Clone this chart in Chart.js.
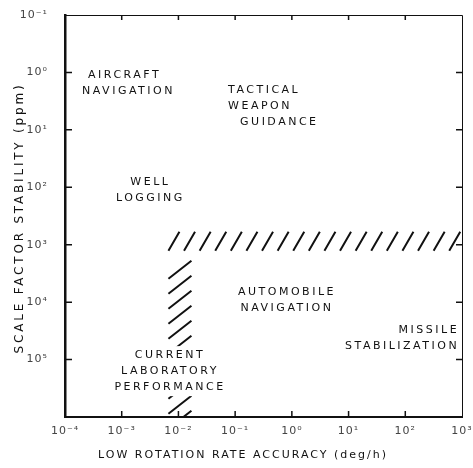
<!DOCTYPE html>
<html>
<head>
<meta charset="utf-8">
<script src="https://cdn.jsdelivr.net/npm/chart.js@4"></script>
<style>
    html, body { margin: 0; padding: 0; background: #fff; }
    #wrap { width: 473px; height: 468px; }
</style>
</head>
<body>
<div id="wrap"><canvas id="chart"></canvas></div>
<script>
// decades on both log axes
const xTickValues = [1e-4, 1e-3, 1e-2, 1e-1, 1e0, 1e1, 1e2, 1e3];
const xTickLabels = ["10⁻⁴", "10⁻³", "10⁻²", "10⁻¹", "10⁰", "10¹", "10²", "10³"];
const yTickValues = [1e-1, 1e0, 1e1, 1e2, 1e3, 1e4, 1e5, 1e6];
const yTickLabels = ["10⁻¹", "10⁰", "10¹", "10²", "10³", "10⁴", "10⁵", ""];

// application areas, anchored at (deg/h, ppm)
const appNames = [
    [" AIRCRAFT", "NAVIGATION"],
    ["TACTICAL", "WEAPON", "  GUIDANCE"],
    ["WELL", "LOGGING"],
    ["AUTOMOBILE", "NAVIGATION"],
    ["MISSILE", "STABILIZATION"],
    ["CURRENT", "LABORATORY", "PERFORMANCE"],
];
const appRate = [2.0e-4, 0.075, 3.2e-3, 0.82, 890, 7.1e-3];
const appStability = [1.1, 2.0, 81, 6700, 30800, 83700];

// limit of current laboratory performance (hatched L)
const limitRate = [1e3, 1e-2, 1e-2];
const limitStability = [1e3, 1e3, 1e6];

const FONT = "'DejaVu Sans', sans-serif";
const labelAlign = ["left", "left", "center", "center", "right", "center"];

const paperPlugin = {
    id: "paper",
    beforeDraw(chart) {
        const ctx = chart.ctx;
        ctx.save();
        ctx.fillStyle = "#fff";
        ctx.fillRect(0, 0, chart.width, chart.height);
        ctx.restore();
        ctx.letterSpacing = "1px";
    },
    afterDatasetsDraw(chart) {
        const ctx = chart.ctx;
        const area = chart.chartArea;
        const xs = chart.scales.x;
        const ys = chart.scales.y;

        // hatching along the limit
        const lim = chart.getDatasetMeta(1).data;
        const corner = lim[1];
        ctx.save();
        ctx.strokeStyle = "#111";
        ctx.lineWidth = 2;
        ctx.beginPath();
        for (let x = corner.x - 10; x < lim[0].x - 3; x += 15.6) {
            ctx.moveTo(x, corner.y + 6);
            ctx.lineTo(x + 11, corner.y - 13);
        }
        ctx.stroke();
        ctx.save();
        ctx.beginPath();
        ctx.rect(area.left, area.top, area.right - area.left, area.bottom - area.top);
        ctx.clip();
        ctx.beginPath();
        for (let y = corner.y + 16; y < lim[2].y + 5; y += 15) {
            ctx.moveTo(corner.x - 10, y + 18);
            ctx.lineTo(corner.x + 13, y);
        }
        ctx.stroke();
        ctx.restore();
        ctx.restore();

        // application labels
        const pts = chart.getDatasetMeta(0).data;
        ctx.save();
        ctx.font = "11px " + FONT;
        ctx.letterSpacing = "2.5px";
        ctx.textBaseline = "middle";
        appNames.forEach((lines, i) => {
            const p = pts[i];
            ctx.textAlign = labelAlign[i];
            lines.forEach((line, j) => {
                const y = p.y + j * 16;
                const w = ctx.measureText(line).width;
                let x0 = p.x;
                if (labelAlign[i] === "center") x0 = p.x - w / 2;
                if (labelAlign[i] === "right") x0 = p.x - w;
                ctx.fillStyle = "#fff";
                ctx.fillRect(x0 - 3, y - 9, w + 6, 18);
                ctx.fillStyle = "#111";
                ctx.fillText(line, p.x, y);
            });
        });
        ctx.restore();

        // thin top / right frame and inward ticks
        ctx.save();
        ctx.strokeStyle = "#111";
        ctx.lineWidth = 1;
        ctx.beginPath();
        ctx.moveTo(area.left, area.top + 0.5);
        ctx.lineTo(area.right + 0.5, area.top + 0.5);
        ctx.lineTo(area.right + 0.5, area.bottom);
        ctx.stroke();
        ctx.lineWidth = 1.5;
        ctx.beginPath();
        xTickValues.slice(1, -1).forEach((v) => {
            const px = xs.getPixelForValue(v);
            ctx.moveTo(px, area.bottom);
            ctx.lineTo(px, area.bottom - 6);
            ctx.moveTo(px, area.top);
            ctx.lineTo(px, area.top + 5);
        });
        yTickValues.slice(1, -1).forEach((v) => {
            const py = ys.getPixelForValue(v);
            ctx.moveTo(area.left, py);
            ctx.lineTo(area.left + 7, py);
            ctx.moveTo(area.right, py);
            ctx.lineTo(area.right - 6, py);
        });
        ctx.stroke();
        ctx.restore();

        // axis titles
        ctx.save();
        ctx.fillStyle = "#111";
        ctx.textAlign = "center";
        ctx.textBaseline = "middle";
        ctx.font = "11px " + FONT;
        ctx.letterSpacing = "2px";
        ctx.fillText("LOW ROTATION RATE ACCURACY (deg/h)", area.left + 178, area.bottom + 38);
        ctx.translate(20, (area.top + area.bottom) / 2 + 2);
        ctx.rotate(-Math.PI / 2);
        ctx.font = "12px " + FONT;
        ctx.letterSpacing = "2.8px";
        ctx.fillText("SCALE FACTOR STABILITY (ppm)", 0, 0);
        ctx.restore();
    },
};

new Chart(document.getElementById("chart"), {
    type: "scatter",
    data: {
        datasets: [
            {
                label: "Applications",
                data: appRate.map((r, i) => ({ x: r, y: appStability[i] })),
                pointRadius: 0,
                showLine: false,
            },
            {
                label: "Current laboratory performance",
                data: limitRate.map((r, i) => ({ x: r, y: limitStability[i] })),
                pointRadius: 0,
                showLine: true,
                borderWidth: 0,
                borderColor: "rgba(0,0,0,0)",
            },
        ],
    },
    options: {
        responsive: true,
        maintainAspectRatio: false,
        animation: false,
        events: [],
        layout: { padding: { top: 15, right: 11, left: 0, bottom: 0 } },
        plugins: {
            legend: { display: false },
            tooltip: { enabled: false },
        },
        scales: {
            x: {
                type: "logarithmic",
                position: "bottom",
                min: 1e-4,
                max: 1e3,
                grid: { display: false, drawTicks: false },
                border: { display: true, color: "#111", width: 2 },
                afterBuildTicks: (s) => {
                    s.ticks = xTickValues.map((v) => ({ value: v }));
                },
                afterFit: (s) => {
                    s.height = 51;
                    s.paddingLeft = 0;
                    s.paddingRight = 0;
                },
                ticks: {
                    autoSkip: false,
                    maxRotation: 0,
                    padding: 8,
                    color: "#444",
                    font: { family: FONT, size: 11 },
                    callback: (v, i) => xTickLabels[i],
                },
            },
            y: {
                type: "logarithmic",
                reverse: true,
                min: 1e-1,
                max: 1e6,
                grid: { display: false, drawTicks: false },
                border: { display: true, color: "#111", width: 2.5 },
                afterBuildTicks: (s) => {
                    s.ticks = yTickValues.map((v) => ({ value: v }));
                },
                afterFit: (s) => {
                    s.width = 65;
                    s.paddingTop = 0;
                    s.paddingBottom = 0;
                },
                ticks: {
                    autoSkip: false,
                    padding: 17,
                    color: "#444",
                    font: { family: FONT, size: 11 },
                    callback: (v, i) => yTickLabels[i],
                },
            },
        },
    },
    plugins: [paperPlugin],
});
</script>
</body>
</html>
